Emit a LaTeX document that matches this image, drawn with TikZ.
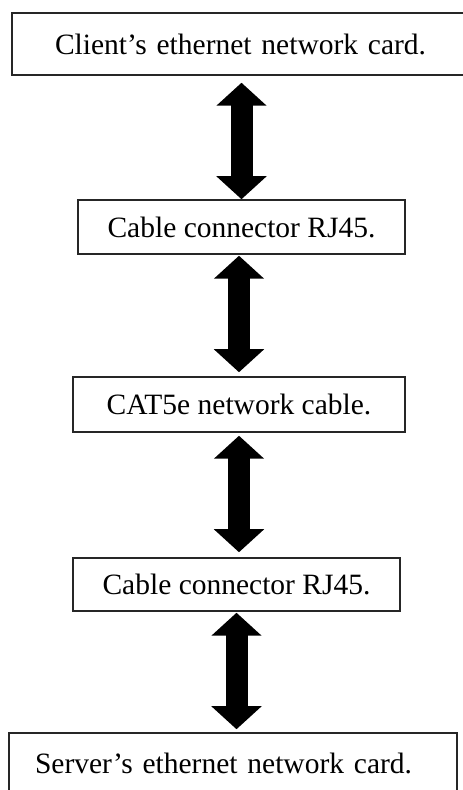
\documentclass[tikz,border=0pt]{standalone}
\usepackage{fontspec}
\setmainfont{Liberation Serif}
\usetikzlibrary{arrows.meta}
\tikzset{
  stage/.style={draw=black!85, line width=1.5pt, inner sep=0pt,
    font=\fontsize{29.5}{35}\selectfont},
  link/.style={line width=22pt, {Triangle[width=49pt,length=23pt]}-{Triangle[width=49pt,length=23pt]}}
}
\begin{document}
\begin{tikzpicture}[x=1pt,y=1pt]
  \useasboundingbox (0,0) rectangle (463,790);
  \clip (0,0) rectangle (463,790);
  \node[stage, minimum height=62pt, text width=376pt, inner xsep=43pt, align=left] (client) at (243,746) {Client’s ethernet network card.};
  \node[stage, minimum width=327pt, minimum height=54pt] (rjtop) at (241.5,563) {Cable connector RJ45.};
  \node[stage, minimum width=332pt, minimum height=55pt] (cable) at (239,385.5) {CAT5e network cable.};
  \node[stage, minimum width=327pt, minimum height=53pt] (rjbot) at (236.5,205.5) {Cable connector RJ45.};
  \node[stage, minimum height=60pt, text width=396pt, inner xsep=26pt, align=left] (server) at (233,27) {Server’s ethernet network card.};

  \draw[link, shorten <=7pt] (rjtop.north |- client.south) -- (rjtop.north); % card - connector
  \draw[link, shorten <=1pt, shorten >=4pt] (cable.north |- rjtop.south) -- (cable.north);
  \draw[link, shorten <=3pt, shorten >=5pt] (cable.south) -- (rjbot.north -| cable.south);
  \draw[link, shorten <=1pt, shorten >=3pt] (rjbot.south) -- (server.north -| rjbot.south); % connector - card
\end{tikzpicture}
\end{document}
